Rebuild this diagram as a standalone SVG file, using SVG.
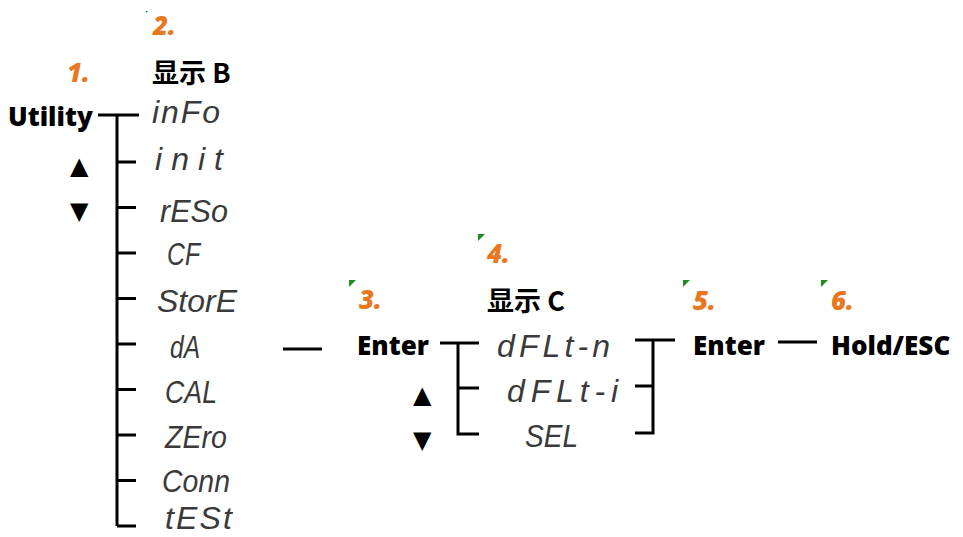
<svg xmlns="http://www.w3.org/2000/svg" width="963" height="537" viewBox="0 0 963 537">
<style>
.lbl{font-family:"Open Sans","Liberation Sans",sans-serif;font-weight:800;font-size:26px;fill:#000}
.cjk{font-family:"Noto Sans CJK SC","Open Sans",sans-serif;font-weight:bold;font-size:27px;fill:#000}
.num{font-family:"Open Sans","Liberation Sans",sans-serif;font-weight:800;font-style:italic;font-size:26px;fill:#E8771E}
.seg{font-family:"Liberation Sans","DejaVu Sans",sans-serif;font-style:italic;font-size:32px;fill:#3a3a3a}
.arw{font-family:"DejaVu Sans",sans-serif;font-size:24px;fill:#000}
.ln{stroke:#000;stroke-width:3;fill:none}
.mk{fill:#1E8C1E}
</style>
<g id="markers">
<polygon class="mk" points="146,11 148,11 146,13"/>
<polygon class="mk" points="349,280 356,280 349,287"/>
<polygon class="mk" points="478,234 485,234 478,241"/>
<polygon class="mk" points="683,280 690,280 683,287"/>
<polygon class="mk" points="821,280 828,280 821,287"/>
</g>
<g id="connectors">
<path class="ln" d="M98,115 H139 M117,115 V526 M117,162 H136 M117,207.5 H136 M117,253 H136 M117,298.5 H136 M117,344 H136 M117,389.5 H136 M117,435 H136 M117,480.5 H136 M117,526 H136"/>
<path class="ln" d="M283,349 H322"/>
<path class="ln" d="M440,343 H479 M458,343 V434 H479 M458,388 H479"/>
<path class="ln" d="M635,340 H675 M653,340 V433 H635 M653,386 H635"/>
<path class="ln" d="M778,342 H817"/>
</g>
<g id="step1"><text class="num" x="67" y="82">1.</text></g>
<g id="step2"><text class="num" x="153" y="35">2.</text></g>
<g id="step3"><text class="num" x="359" y="309">3.</text></g>
<g id="step4"><text class="num" x="487" y="263">4.</text></g>
<g id="step5"><text class="num" x="693" y="310">5.</text></g>
<g id="step6"><text class="num" x="831" y="310">6.</text></g>
<g id="utility">
<text class="lbl" x="8" y="126">Utility</text>
<text class="arw" x="70" y="174">▲</text>
<text class="arw" x="70" y="219">▼</text>
</g>
<g id="displayB"><text class="cjk" x="152" y="83">显示 B</text></g>
<g id="menuB">
<text class="seg" x="152" y="123" textLength="68" lengthAdjust="spacing">inFo</text>
<text class="seg" x="155" y="170" textLength="68" lengthAdjust="spacing">init</text>
<text class="seg" x="160" y="222" textLength="68" lengthAdjust="spacingAndGlyphs">rESo</text>
<text class="seg" x="167" y="265" textLength="33" lengthAdjust="spacingAndGlyphs">CF</text>
<text class="seg" x="157" y="312" textLength="80" lengthAdjust="spacingAndGlyphs">StorE</text>
<text class="seg" x="170" y="358" textLength="30" lengthAdjust="spacingAndGlyphs">dA</text>
<text class="seg" x="165" y="403" textLength="52" lengthAdjust="spacingAndGlyphs">CAL</text>
<text class="seg" x="165" y="448" textLength="62" lengthAdjust="spacingAndGlyphs">ZEro</text>
<text class="seg" x="162" y="492" textLength="68" lengthAdjust="spacingAndGlyphs">Conn</text>
<text class="seg" x="165" y="529" textLength="67" lengthAdjust="spacing">tESt</text>
</g>
<g id="enter1">
<text class="lbl" x="357" y="355">Enter</text>
<text class="arw" x="413" y="403">▲</text>
<text class="arw" x="413" y="448">▼</text>
</g>
<g id="displayC"><text class="cjk" x="487" y="311">显示 C</text></g>
<g id="menuC">
<text class="seg" x="497" y="357" textLength="113" lengthAdjust="spacing">dFLt-n</text>
<text class="seg" x="507" y="402" textLength="111" lengthAdjust="spacing">dFLt-i</text>
<text class="seg" x="525" y="447" textLength="53" lengthAdjust="spacingAndGlyphs">SEL</text>
</g>
<g id="enter2"><text class="lbl" x="693" y="355">Enter</text></g>
<g id="holdesc"><text class="lbl" x="831" y="355">Hold/ESC</text></g>
</svg>
